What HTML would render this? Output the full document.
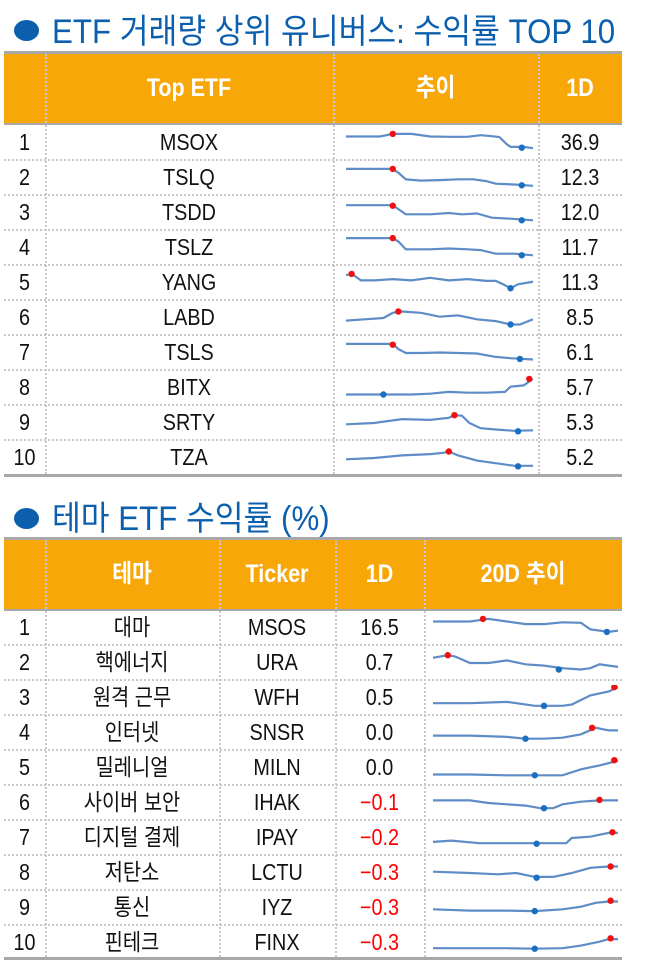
<!DOCTYPE html>
<html><head><meta charset="utf-8"><style>
body{margin:0;background:#fff;width:646px;height:976px;position:relative;overflow:hidden;font-family:"Liberation Sans","Noto Sans CJK KR",sans-serif;}
.bul{position:absolute;left:14px;width:25px;height:21px;border-radius:50%;background:#0c5fad}
.ttl{position:absolute;left:52px;color:#0c5fad;font-family:"Liberation Sans","Noto Sans CJK KR",sans-serif;font-size:34px;line-height:40px;white-space:nowrap;transform:scaleX(0.92);transform-origin:0 50%;}
.gray{position:absolute;left:4px;width:618px;background:#a8a8a8}
.hdr{position:absolute;left:4px;width:618px;background:#f7a707}
.c{position:absolute;text-align:center;font-size:23px;line-height:35px;color:#111;white-space:nowrap;transform:scaleX(0.86)}
.h{color:#fff;font-size:25px;font-weight:bold;line-height:69px}
.vl{position:absolute;width:0;border-left:2px dotted #c8c8c8}
.hl{position:absolute;left:4px;width:618px;height:0;border-top:2px dotted #c8c8c8}
.neg{color:#f00}
svg{position:absolute}
</style></head><body>
<div class="bul" style="top:20px"></div>
<div class="ttl" style="top:12px">ETF 거래량 상위 유니버스: 수익률 TOP 10</div>
<div class="gray" style="top:51px;height:3px"></div>
<div class="hdr" style="top:54px;height:69px"></div>
<div class="gray" style="top:123px;height:2px"></div>
<div class="c h" style="top:54px;left:45px;width:288px">Top ETF</div>
<div class="c h" style="top:54px;left:333px;width:205px">추이</div>
<div class="c h" style="top:54px;left:538px;width:84px">1D</div>
<div class="gray" style="top:474px;height:3px"></div>

<div class="bul" style="top:508px"></div>
<div class="ttl" style="top:499px">테마 ETF 수익률 (%)</div>
<div class="gray" style="top:537px;height:3px"></div>
<div class="hdr" style="top:540px;height:69px"></div>
<div class="gray" style="top:609px;height:2px"></div>
<div class="c h" style="top:540px;left:45px;width:174px">테마</div>
<div class="c h" style="top:540px;left:219px;width:116px">Ticker</div>
<div class="c h" style="top:540px;left:335px;width:89px">1D</div>
<div class="c h" style="top:540px;left:424px;width:198px">20D 추이</div>
<div class="gray" style="top:957px;height:3px"></div>

<!-- table 1 rows -->
<div class="c" style="top:125px;left:4px;width:41px">1</div><div class="c" style="top:125px;left:45px;width:288px">MSOX</div><div class="c" style="top:125px;left:538px;width:84px">36.9</div>
<div class="c" style="top:160px;left:4px;width:41px">2</div><div class="c" style="top:160px;left:45px;width:288px">TSLQ</div><div class="c" style="top:160px;left:538px;width:84px">12.3</div>
<div class="c" style="top:195px;left:4px;width:41px">3</div><div class="c" style="top:195px;left:45px;width:288px">TSDD</div><div class="c" style="top:195px;left:538px;width:84px">12.0</div>
<div class="c" style="top:230px;left:4px;width:41px">4</div><div class="c" style="top:230px;left:45px;width:288px">TSLZ</div><div class="c" style="top:230px;left:538px;width:84px">11.7</div>
<div class="c" style="top:265px;left:4px;width:41px">5</div><div class="c" style="top:265px;left:45px;width:288px">YANG</div><div class="c" style="top:265px;left:538px;width:84px">11.3</div>
<div class="c" style="top:300px;left:4px;width:41px">6</div><div class="c" style="top:300px;left:45px;width:288px">LABD</div><div class="c" style="top:300px;left:538px;width:84px">8.5</div>
<div class="c" style="top:335px;left:4px;width:41px">7</div><div class="c" style="top:335px;left:45px;width:288px">TSLS</div><div class="c" style="top:335px;left:538px;width:84px">6.1</div>
<div class="c" style="top:370px;left:4px;width:41px">8</div><div class="c" style="top:370px;left:45px;width:288px">BITX</div><div class="c" style="top:370px;left:538px;width:84px">5.7</div>
<div class="c" style="top:405px;left:4px;width:41px">9</div><div class="c" style="top:405px;left:45px;width:288px">SRTY</div><div class="c" style="top:405px;left:538px;width:84px">5.3</div>
<div class="c" style="top:440px;left:4px;width:41px">10</div><div class="c" style="top:440px;left:45px;width:288px">TZA</div><div class="c" style="top:440px;left:538px;width:84px">5.2</div>

<!-- table 2 rows -->
<div class="c" style="top:610px;left:4px;width:41px">1</div><div class="c" style="top:610px;left:45px;width:174px">대마</div><div class="c" style="top:610px;left:219px;width:116px">MSOS</div><div class="c" style="top:610px;left:335px;width:89px">16.5</div>
<div class="c" style="top:645px;left:4px;width:41px">2</div><div class="c" style="top:645px;left:45px;width:174px">핵에너지</div><div class="c" style="top:645px;left:219px;width:116px">URA</div><div class="c" style="top:645px;left:335px;width:89px">0.7</div>
<div class="c" style="top:680px;left:4px;width:41px">3</div><div class="c" style="top:680px;left:45px;width:174px">원격 근무</div><div class="c" style="top:680px;left:219px;width:116px">WFH</div><div class="c" style="top:680px;left:335px;width:89px">0.5</div>
<div class="c" style="top:715px;left:4px;width:41px">4</div><div class="c" style="top:715px;left:45px;width:174px">인터넷</div><div class="c" style="top:715px;left:219px;width:116px">SNSR</div><div class="c" style="top:715px;left:335px;width:89px">0.0</div>
<div class="c" style="top:750px;left:4px;width:41px">5</div><div class="c" style="top:750px;left:45px;width:174px">밀레니얼</div><div class="c" style="top:750px;left:219px;width:116px">MILN</div><div class="c" style="top:750px;left:335px;width:89px">0.0</div>
<div class="c" style="top:785px;left:4px;width:41px">6</div><div class="c" style="top:785px;left:45px;width:174px">사이버 보안</div><div class="c" style="top:785px;left:219px;width:116px">IHAK</div><div class="c neg" style="top:785px;left:335px;width:89px">−0.1</div>
<div class="c" style="top:820px;left:4px;width:41px">7</div><div class="c" style="top:820px;left:45px;width:174px">디지털 결제</div><div class="c" style="top:820px;left:219px;width:116px">IPAY</div><div class="c neg" style="top:820px;left:335px;width:89px">−0.2</div>
<div class="c" style="top:855px;left:4px;width:41px">8</div><div class="c" style="top:855px;left:45px;width:174px">저탄소</div><div class="c" style="top:855px;left:219px;width:116px">LCTU</div><div class="c neg" style="top:855px;left:335px;width:89px">−0.3</div>
<div class="c" style="top:890px;left:4px;width:41px">9</div><div class="c" style="top:890px;left:45px;width:174px">통신</div><div class="c" style="top:890px;left:219px;width:116px">IYZ</div><div class="c neg" style="top:890px;left:335px;width:89px">−0.3</div>
<div class="c" style="top:925px;left:4px;width:41px">10</div><div class="c" style="top:925px;left:45px;width:174px">핀테크</div><div class="c" style="top:925px;left:219px;width:116px">FINX</div><div class="c neg" style="top:925px;left:335px;width:89px">−0.3</div>

<div id="grid"></div>
<script>
var g='';
function vl(x,t,b){g+='<div class="vl" style="left:'+x+'px;top:'+t+'px;height:'+(b-t)+'px"></div>';}
function hl(y){g+='<div class="hl" style="top:'+y+'px"></div>';}
[45,333,538].forEach(function(x){vl(x,54,474);});
[45,219,335,424].forEach(function(x){vl(x,540,957);});
for(var i=1;i<10;i++){hl(124+i*35);hl(609+i*35);}
function sp(x0,top,w,pts,r,b){
 var h=26,s='<svg width="'+w+'" height="'+h+'" style="left:'+x0+'px;top:'+top+'px">';
 var p=[];for(var i=0;i<pts.length;i+=2)p.push((pts[i]*w/100).toFixed(1)+','+(pts[i+1]*h/100).toFixed(1));
 s+='<polyline points="'+p.join(' ')+'" fill="none" stroke="#5e8cc6" stroke-width="2.2"/>';
 s+='<circle cx="'+r[0]*w/100+'" cy="'+r[1]*h/100+'" r="3.2" fill="#f01010"/>';
 s+='<circle cx="'+b[0]*w/100+'" cy="'+b[1]*h/100+'" r="3.2" fill="#1a6fc0"/>';
 g+=s+'</svg>';}
var T1=[
[[0,25,18,25,25,15,35,15,45,25,55,26,65,26,72,20,78,24,82,27,86,55,88,65,95,65,100,70],[25,15],[94,68]],
[[0,15,25,15,28,30,32,55,40,60,50,58,60,55,68,55,75,62,80,72,90,75,100,80],[25,15],[94,78]],
[[0,20,25,20,28,35,32,55,45,55,55,50,62,55,70,52,78,68,88,72,100,78],[25,22],[94,78]],
[[0,12,25,12,28,25,32,55,45,55,55,52,65,55,72,58,80,72,90,72,100,78],[25,12],[94,78]],
[[0,20,3,15,8,40,15,40,25,35,35,40,45,30,55,40,65,35,75,42,80,42,84,55,88,70,92,55,96,50,100,45],[3,15],[88,70]],
[[0,60,10,55,20,50,25,30,30,25,40,30,50,45,60,40,70,55,80,62,88,75,93,75,100,55],[28,25],[88,75]],
[[0,15,25,15,28,35,32,50,40,50,50,48,60,50,70,52,80,65,88,70,100,75],[25,18],[93,73]],
[[0,75,20,75,35,75,45,72,55,65,65,68,75,68,85,65,88,45,95,40,100,15],[98,15],[20,75]],
[[0,55,15,50,30,35,45,38,55,30,58,20,62,22,66,50,72,70,80,75,90,80,100,78],[58,20],[92,82]],
[[0,55,15,50,30,40,45,35,52,30,55,25,60,40,70,60,80,70,90,80,100,80],[55,25],[92,82]]];
var T2=[
[[0,25,20,25,25,20,30,15,40,25,50,35,60,35,70,28,80,30,85,55,90,60,95,65,100,60],[27,15],[94,65]],
[[0,30,8,20,12,25,20,50,30,50,40,40,50,55,60,60,70,70,80,75,85,70,90,55,95,60,100,65],[8,20],[68,75]],
[[0,70,20,70,40,65,55,80,70,80,75,75,85,40,95,25,100,8],[98,8],[60,80]],
[[0,60,20,60,40,65,50,72,60,72,70,68,80,55,88,30,95,40,100,40],[86,30],[50,72]],
[[0,75,20,75,40,78,60,78,70,78,80,55,90,40,100,22],[98,20],[55,78]],
[[0,40,20,40,30,50,40,55,50,60,58,70,65,70,70,55,80,45,90,40,100,40],[90,38],[60,70]],
[[0,65,10,60,25,70,40,70,55,70,72,70,75,50,85,45,95,30,100,30],[97,28],[56,72]],
[[0,45,20,50,35,55,45,50,55,65,65,65,75,50,85,30,95,25,100,25],[96,25],[56,68]],
[[0,55,20,60,40,60,55,62,70,55,80,45,88,30,95,25,100,25],[96,22],[55,62]],
[[0,70,20,70,40,70,55,72,70,70,80,60,90,45,95,35,100,35],[96,32],[55,72]]];
T1.forEach(function(d,i){sp(346,125+i*35+5,187,d[0],d[1],d[2]);});
T2.forEach(function(d,i){sp(433,610+i*35+5,185,d[0],d[1],d[2]);});
document.getElementById('grid').innerHTML=g;
</script>
</body></html>
